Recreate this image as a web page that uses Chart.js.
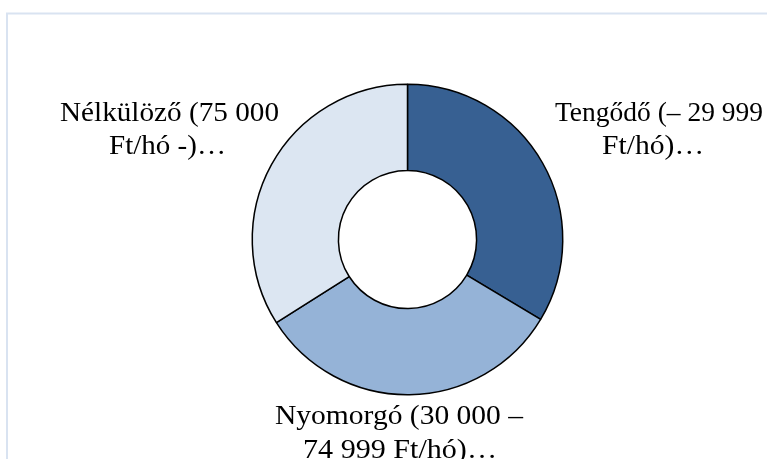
<!DOCTYPE html>
<html>
<head>
<meta charset="utf-8">
<script src="https://cdn.jsdelivr.net/npm/chart.js@4/dist/chart.umd.min.js"></script>
<style>
  html, body { margin: 0; padding: 0; background: #fff; }
  #wrap { width: 767px; height: 459px; position: relative; }
</style>
</head>
<body>
<div id="wrap"><canvas id="chart" width="767" height="459"></canvas></div>
<script>
// kategóriák és értékek (%)
const categories = ['Tengődő (– 29 999 Ft/hó)…', 'Nyomorgó (30 000 – 74 999 Ft/hó)…', 'Nélkülöző (75 000 Ft/hó -)…'];
const labelLines = [
    ['Tengődő (– 29 999', 'Ft/hó)…'],
    ['Nyomorgó (30 000 –', '74 999 Ft/hó)…'],
    ['Nélkülöző (75 000', 'Ft/hó -)…']
];
const values = [33.6, 32.4, 34.0];
const colors = ['#376092', '#95b3d7', '#dce6f2'];

// label line placement: centre x, baseline y, width to fit
const labelBoxes = [
    [{ x: 659, y: 121, w: 208 }, { x: 653, y: 154, w: 102 }],
    [{ x: 399, y: 424, w: 248 }, { x: 400, y: 458, w: 194 }],
    [{ x: 169.5, y: 121, w: 219 }, { x: 167.5, y: 154, w: 117 }]
];

const framePlugin = {
    id: 'frame',
    beforeDraw(chart) {
        const ctx = chart.ctx;
        ctx.save();
        ctx.fillStyle = '#ffffff';
        ctx.fillRect(0, 0, chart.width, chart.height);
        ctx.strokeStyle = '#d9e3f1';
        ctx.lineWidth = 2;
        ctx.strokeRect(7, 13.5, 900, 600);
        ctx.restore();
    }
};

const labelPlugin = {
    id: 'sliceLabels',
    afterDraw(chart) {
        const ctx = chart.ctx;
        ctx.save();
        ctx.fillStyle = '#000';
        ctx.font = '26.5px "Liberation Serif", "Times New Roman", serif';
        ctx.textAlign = 'center';
        ctx.textBaseline = 'alphabetic';
        labelLines.forEach((lines, i) => {
            lines.forEach((line, j) => {
                const b = labelBoxes[i][j];
                const natural = ctx.measureText(line).width;
                ctx.save();
                ctx.translate(b.x, b.y);
                ctx.scale(b.w / natural, 1);
                ctx.fillText(line, 0, 0);
                ctx.restore();
            });
        });
        ctx.restore();
    }
};

new Chart(document.getElementById('chart'), {
    type: 'doughnut',
    data: {
        labels: categories,
        datasets: [{
            data: values,
            backgroundColor: colors,
            borderColor: '#000',
            borderWidth: 1.5,
            borderAlign: 'center'
        }]
    },
    options: {
        responsive: false,
        animation: false,
        cutout: '44.5%',
        layout: {
            padding: { left: 251.5, right: 203.5, top: 83.5, bottom: 63.5 }
        },
        plugins: {
            legend: { display: false },
            tooltip: { enabled: false }
        }
    },
    plugins: [framePlugin, labelPlugin]
});
</script>
</body>
</html>
